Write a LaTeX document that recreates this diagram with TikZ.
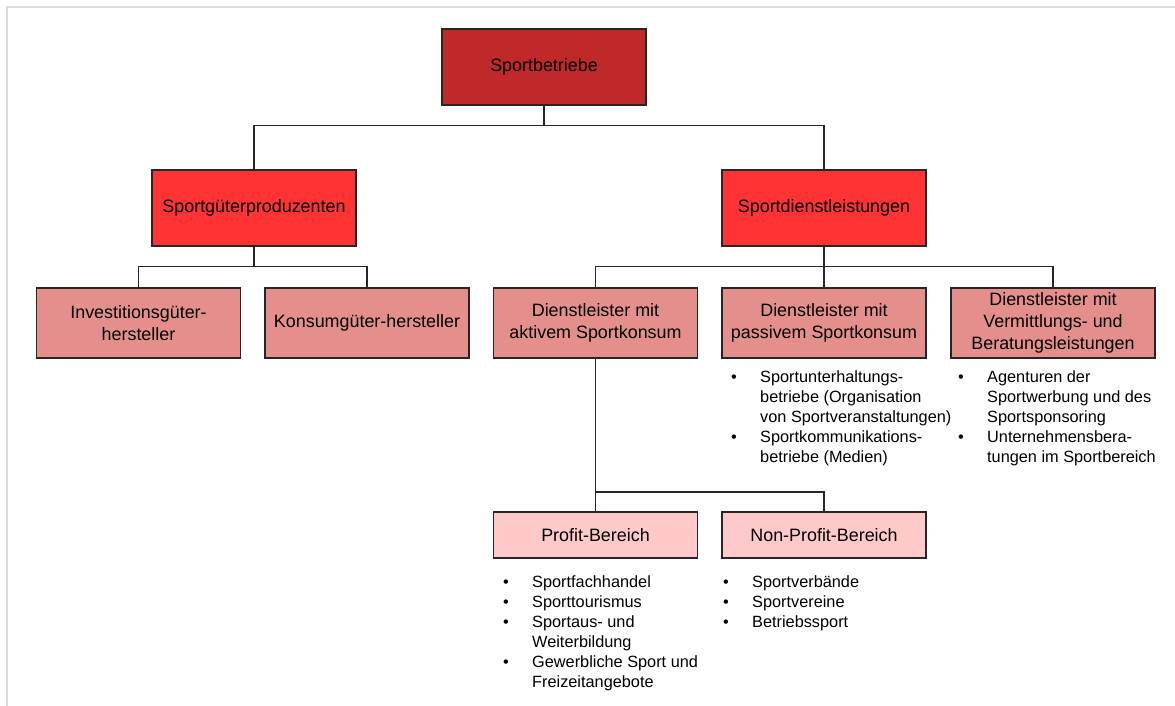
\documentclass[tikz,border=0pt]{standalone}
\usepackage{fontspec}
\setmainfont{Liberation Sans}
\definecolor{topred}{HTML}{C0292A}
\definecolor{midred}{HTML}{FF3333}
\definecolor{lowred}{HTML}{E58F8C}
\definecolor{palered}{HTML}{FFC9C9}
\definecolor{framegray}{HTML}{DCDCDC}
\newcommand{\bul}{\makebox[29pt][l]{\textbullet}}
\begin{document}
\begin{tikzpicture}[x=1pt,y=-1pt,
  box/.style={draw=black!85,line width=1.2pt,minimum width=204pt,align=center,
    font=\fontsize{17.9}{22}\selectfont,inner sep=0pt},
  lvlone/.style={box,fill=topred,minimum height=76pt},
  lvltwo/.style={box,fill=midred,minimum height=76pt},
  lvlthree/.style={box,fill=lowred,minimum height=70pt},
  lvlfour/.style={box,fill=palered,minimum height=46pt},
  link/.style={draw=black!85,line width=1.2pt},
  list/.style={anchor=base west,inner sep=0pt,font=\fontsize{16.3}{20}\selectfont}]
\useasboundingbox (0,0) rectangle (1175,706);
% frame lines along the top and left edge
\draw[framegray,line width=2pt] (7,706) -- (7,7) -- (1175,7);

% boxes
\node[lvlone] (root) at (544,67) {Sportbetriebe};
\node[lvltwo] (prod) at (254,208) {Sportgüterproduzenten};
\node[lvltwo] (dienst) at (824,208) {Sportdienstleistungen};
\node[lvlthree] (invest) at (138.5,323) {Investitionsgüter-\\hersteller};
\node[lvlthree] (konsum) at (367,323) {Konsumgüter-hersteller};
\node[lvlthree] (aktiv) at (595.5,323) {Dienstleister mit\\aktivem Sportkonsum};
\node[lvlthree] (passiv) at (824,323) {Dienstleister mit\\passivem Sportkonsum};
\node[lvlthree] (vermitt) at (1053,323) {Dienstleister mit\\Vermittlungs- und\\Beratungsleistungen};
\node[lvlfour] (profit) at (595.5,535) {Profit-Bereich};
\node[lvlfour] (nonprofit) at (824,535) {Non-Profit-Bereich};

% connectors
\draw[link] (root.south) -- ++(0,20) coordinate (j1);
\draw[link] (j1) -| (prod.north);
\draw[link] (j1) -| (dienst.north);
\draw[link] (prod.south) -- ++(0,20) coordinate (j2);
\draw[link] (j2) -| (invest.north);
\draw[link] (j2) -| (konsum.north);
\draw[link] (dienst.south) -- ++(0,20) coordinate (j3);
\draw[link] (j3) -| (aktiv.north);
\draw[link] (j3) -| (passiv.north);
\draw[link] (j3) -| (vermitt.north);
\draw[link] (aktiv.south) -- (profit.north);
\draw[link] (aktiv.south |- 0,492) coordinate (j4) -| (nonprofit.north);

% bullet lists
\node[list] (passivlist) at (731,382) {\begin{tabular}[t]{@{}l@{}l@{}}
\bul & Sportunterhaltungs-\\
 & betriebe (Organisation\\
 & von Sportveranstaltungen)\\
\bul & Sportkommunikations-\\
 & betriebe (Medien)
\end{tabular}};
\node[list] (vermittlist) at (958,382) {\begin{tabular}[t]{@{}l@{}l@{}}
\bul & Agenturen der\\
 & Sportwerbung und des\\
 & Sportsponsoring\\
\bul & Unternehmensbera-\\
 & tungen im Sportbereich
\end{tabular}};
\node[list] (profitlist) at (503,587) {\begin{tabular}[t]{@{}l@{}l@{}}
\bul & Sportfachhandel\\
\bul & Sporttourismus\\
\bul & Sportaus- und\\
 & Weiterbildung\\
\bul & Gewerbliche Sport und\\
 & Freizeitangebote
\end{tabular}};
\node[list] (nonprofitlist) at (723,587) {\begin{tabular}[t]{@{}l@{}l@{}}
\bul & Sportverbände\\
\bul & Sportvereine\\
\bul & Betriebssport
\end{tabular}};
\end{tikzpicture}
\end{document}
